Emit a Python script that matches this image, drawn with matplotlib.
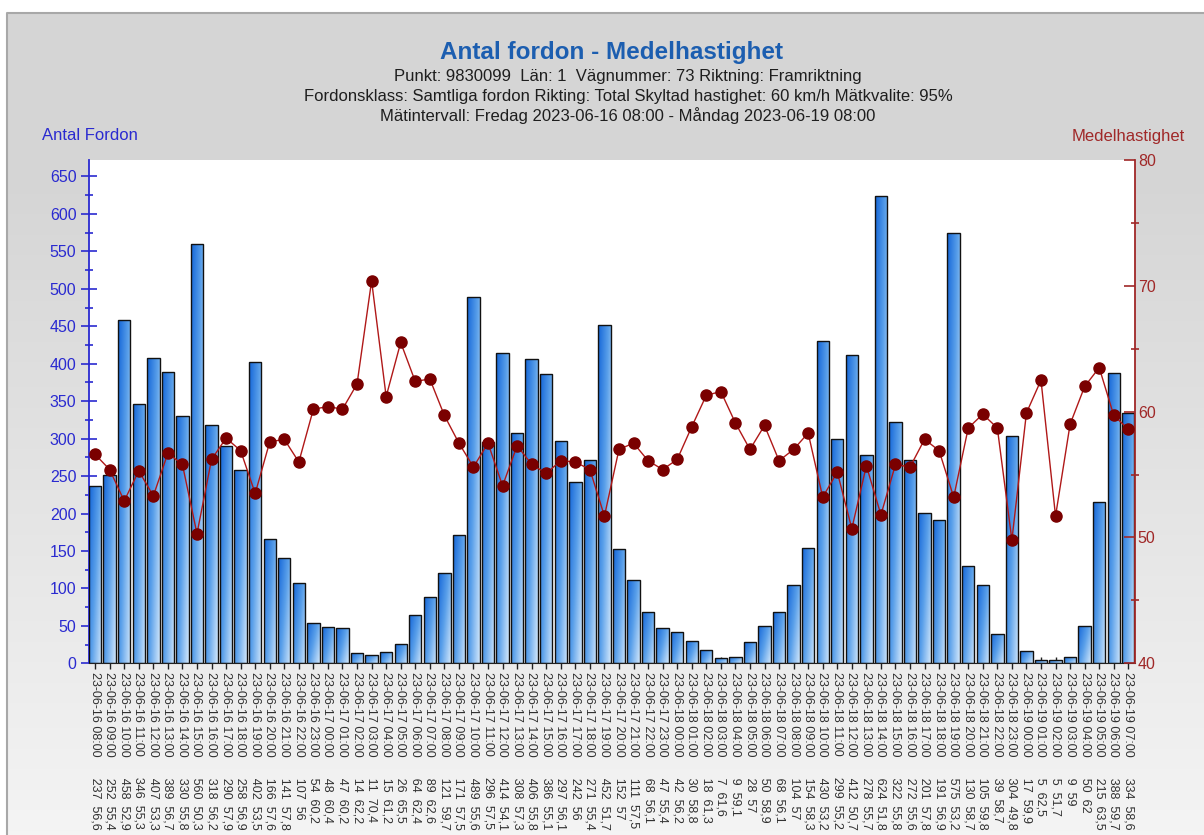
import numpy as np
import matplotlib
matplotlib.use('Agg')
import matplotlib.pyplot as plt
from matplotlib.colors import LinearSegmentedColormap, to_rgb
from matplotlib.ticker import MultipleLocator

plt.rcParams['font.family'] = ['Liberation Sans', 'DejaVu Sans']

##########################################################################
# data
##########################################################################
hours = (['23-06-16 %02d:00' % h for h in range(8, 24)] +
         ['23-06-17 %02d:00' % h for h in range(0, 24)] +
         ['23-06-18 %02d:00' % h for h in range(0, 24)] +
         ['23-06-19 %02d:00' % h for h in range(0, 8)])

antal = [237, 252, 458, 346, 407, 389, 330, 560, 318, 290, 258, 402, 166, 141, 107, 54,
         48, 47, 14, 11, 15, 26, 64, 89, 121, 171, 489, 296, 414, 308, 406, 386,
         297, 242, 271, 452, 152, 111, 68, 47,
         42, 30, 18, 7, 9, 28, 50, 68, 104, 154, 430, 299, 412, 278, 624, 322,
         272, 201, 191, 575, 130, 105, 39, 304,
         17, 5, 5, 9, 50, 215, 388, 334]

hast = [56.6, 55.4, 52.9, 55.3, 53.3, 56.7, 55.8, 50.3, 56.2, 57.9, 56.9, 53.5, 57.6, 57.8, 56, 60.2,
        60.4, 60.2, 62.2, 70.4, 61.2, 65.5, 62.4, 62.6, 59.7, 57.5, 55.6, 57.5, 54.1, 57.3, 55.8, 55.1,
        56.1, 56, 55.4, 51.7, 57, 57.5, 56.1, 55.4,
        56.2, 58.8, 61.3, 61.6, 59.1, 57, 58.9, 56.1, 57, 58.3, 53.2, 55.2, 50.7, 55.7, 51.8, 55.8,
        55.6, 57.8, 56.9, 53.2, 58.7, 59.8, 58.7, 49.8,
        59.9, 62.5, 51.7, 59, 62, 63.5, 59.7, 58.6]

title = 'Antal fordon - Medelhastighet'
sub = ['Punkt: 9830099  Län: 1  Vägnummer: 73 Riktning: Framriktning',
       'Fordonsklass: Samtliga fordon Rikting: Total Skyltad hastighet: 60 km/h Mätkvalite: 95%',
       'Mätintervall: Fredag 2023-06-16 08:00 - Måndag 2023-06-19 08:00']

labels = ['%s      %d  %s' % (t, a, ('%g' % v).replace('.', ','))
          for t, a, v in zip(hours, antal, hast)]

W, H = 1204, 835
blue = '#2a2ad0'
red = '#a02828'

fig = plt.figure(figsize=(W / 100, H / 100), dpi=100, facecolor='white')

# grey panel behind everything
bg = fig.add_axes([0, 0, 1, 1], zorder=-5)
bg.axis('off')
g = np.clip((np.linspace(0, H, 200) - 160) / (H - 160), 0, 1)[:, None]
c0, c1 = np.array(to_rgb('#d5d5d5')), np.array(to_rgb('#f4f4f4'))
img = c0 + (c1 - c0) * g[:, :, None]
img = np.repeat(img, 2, axis=1)
bg.imshow(img, extent=[7, W, H, 13], aspect='auto', origin='upper')
bg.plot([7, 7, W], [H, 13, 13], color='#a8a8a8', lw=1.5)
bg.set_xlim(0, W); bg.set_ylim(H, 0)

# main axes
ax = fig.add_axes([89 / W, (H - 663.3) / H, (1135 - 89) / W, (663.3 - 160) / H])
x = np.arange(len(antal))
bars = ax.bar(x, antal, width=0.85, facecolor='none', edgecolor='#111111', lw=1, zorder=3)

cmap = LinearSegmentedColormap.from_list('bl', ['#1466d8', '#5aa0ea', '#d0e6fb'])
gx = np.linspace(0, 1, 30)[None, :]
gy = np.linspace(0, 1, 60)[:, None]
grad = 0.6 * gx + 0.4 * gy
for b in bars:
    bx, bw, bh = b.get_x(), b.get_width(), b.get_height()
    im = ax.imshow(grad, extent=[bx, bx + bw, 0, bh], aspect='auto', cmap=cmap,
                   origin='upper', zorder=2, vmin=0, vmax=1)
    im.set_clip_path(b)

ax.set_xlim(-0.42, len(antal) - 1 + 0.46)
ax.set_ylim(0, 672)
ax.set_xticks(x)
ax.set_xticklabels(labels, rotation=270, fontsize=9, color='#303030', va='top', ha='center')
ax.tick_params(axis='x', direction='inout', length=9, width=1, color='#202020', pad=2)
ax.yaxis.set_major_locator(MultipleLocator(50))
ax.yaxis.set_minor_locator(MultipleLocator(25))
ax.tick_params(axis='y', which='major', direction='inout', length=12, width=1.2,
               colors=blue, labelsize=11.5, pad=3)
ax.tick_params(axis='y', which='minor', direction='inout', length=6, width=1.2, color=blue)
ax.spines['left'].set_color(blue); ax.spines['left'].set_linewidth(1.3)
ax.spines['bottom'].set_color('#202020')
ax.spines['top'].set_visible(False)
ax.spines['right'].set_visible(False)

ax2 = ax.twinx()
ax2.plot(x, hast, color='#b01818', lw=1, marker='o', ms=8, mfc='#7a0000', mec='#7a0000', zorder=5)
ax2.set_ylim(40, 80)
ax2.yaxis.set_major_locator(MultipleLocator(10))
ax2.yaxis.set_minor_locator(MultipleLocator(5))
ax2.tick_params(axis='y', which='major', direction='in', length=8, width=1.2,
                colors=red, labelsize=11.5, pad=2)
ax2.tick_params(axis='y', which='minor', direction='inout', length=6, width=1.2, color=red)
ax2.spines['right'].set_color(red); ax2.spines['right'].set_linewidth(1.3)
for s in ['left', 'top', 'bottom']:
    ax2.spines[s].set_visible(False)

# texts
fig.text(612 / W, 1 - 52 / H, title, ha='center', va='center', fontsize=17.5,
         fontweight='bold', color='#1c5eb0')
for i, s in enumerate(sub):
    fig.text(628 / W, 1 - (77 + 19.5 * i) / H, s, ha='center', va='center',
             fontsize=12, color='#1e1e1e')
fig.text(42 / W, 1 - 136 / H, 'Antal Fordon', ha='left', va='center', fontsize=12, color=blue)
fig.text(1185 / W, 1 - 136 / H, 'Medelhastighet', ha='right', va='center', fontsize=12, color=red)

fig.savefig('out.png', dpi=100, facecolor='white')
